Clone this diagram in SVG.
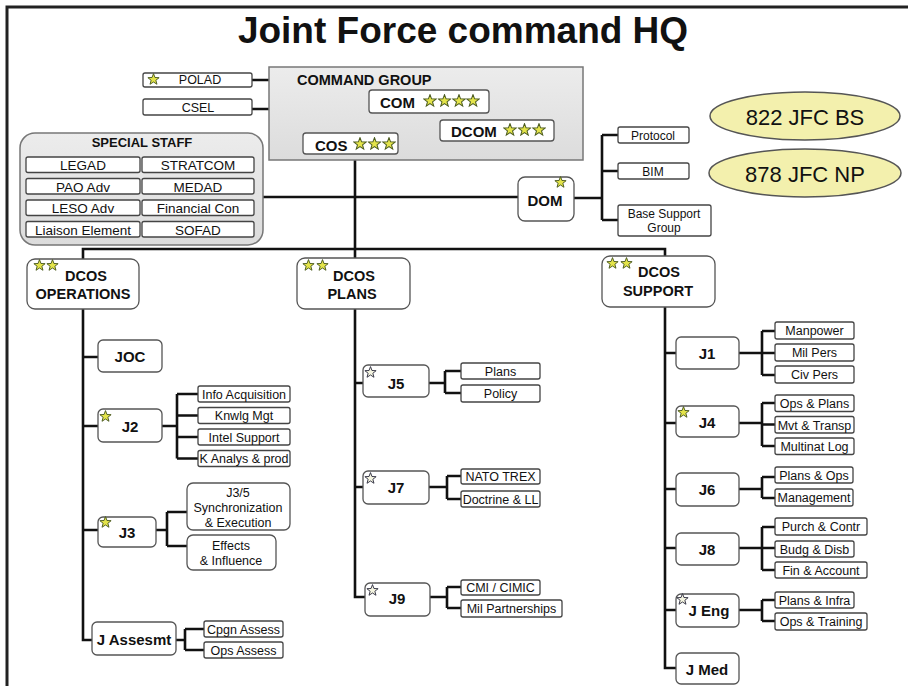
<svg xmlns="http://www.w3.org/2000/svg" xmlns:xlink="http://www.w3.org/1999/xlink" width="908" height="686" viewBox="0 0 908 686">
<style>
text{font-family:"Liberation Sans",Arial,sans-serif;fill:#111}
.t{font-size:37px;font-weight:bold;text-anchor:middle}
.b{font-size:15px;font-weight:bold}
.bc{font-size:15px;font-weight:bold;text-anchor:middle}
.s{font-size:12.5px;text-anchor:middle}
.ss{font-size:13.5px;text-anchor:middle}
.big{font-size:22px;text-anchor:middle}
.box{fill:#fff;stroke:#555;stroke-width:1.3}
.sb{fill:#fff;stroke:#444;stroke-width:1.3}
.grp{fill:url(#gg);stroke:#777;stroke-width:1.5}
.ov{fill:#f3f0ad;stroke:#555;stroke-width:1.5}
.c{fill:none;stroke:#111;stroke-width:2.6;stroke-linejoin:miter}
.frame{fill:none;stroke:#222;stroke-width:3}
</style>
<defs>
<linearGradient id="gg" x1="0" y1="0" x2="0" y2="1"><stop offset="0" stop-color="#ececec"/><stop offset="1" stop-color="#dcdcdc"/></linearGradient>
<symbol id="star" viewBox="-11 -11 22 22"><polygon points="0,-10 2.47,-3.4 9.51,-3.09 3.99,1.3 5.88,8.09 0,4.2 -5.88,8.09 -3.99,1.3 -9.51,-3.09 -2.47,-3.4" fill="#e4e44a" stroke="#4a5a20" stroke-width="1.6"/></symbol>
<symbol id="staro" viewBox="-11 -11 22 22"><polygon points="0,-10 2.47,-3.4 9.51,-3.09 3.99,1.3 5.88,8.09 0,4.2 -5.88,8.09 -3.99,1.3 -9.51,-3.09 -2.47,-3.4" fill="#f4f4e0" stroke="#334" stroke-width="1.6"/></symbol>
</defs>
<rect width="908" height="686" fill="#fff"/>
<polyline class="frame" points="7,686 7,7 908,7"/>
<text class="t" x="463" y="43">Joint Force command HQ</text>

<g id="connectors">
<path class="c" d="M252,80H269M252,109H269"/>
<path class="c" d="M263,197H518M355,154V309M83,259V249H665V256"/>
<path class="c" d="M574,198H602M602,135V220M602,135H618M602,171H618M602,220H618"/>
<path class="c" d="M83,309V640H92M83,357H98M83,426H98M83,530H98"/>
<path class="c" d="M162,426H177M177,394V458.5M177,394H198M177,415.5H198M177,437H198M177,458.5H198"/>
<path class="c" d="M156,530H167M167,512V546M167,512H187M167,546H187"/>
<path class="c" d="M176,640H185M185,629V650M185,629H204M185,650H204"/>
<path class="c" d="M355,309V597H365M355,383H363M355,487H363"/>
<path class="c" d="M429,383H445M445,371V393M445,371H461M445,393H461"/>
<path class="c" d="M429,487H447M447,476V499M447,476H461M447,499H461"/>
<path class="c" d="M430,597H447M447,587V608M447,587H461M447,608H461"/>
<path class="c" d="M665,307V668H676M665,353H676M665,423H676M665,489H676M665,548H676M665,610H676"/>
<path class="c" d="M739,353H762M762,331V375M762,331H775M762,353H775M762,375H775"/>
<path class="c" d="M739,423H762M762,403V446M762,403H775M762,424.5H775M762,446H775"/>
<path class="c" d="M739,489H762M762,477V498M762,477H775M762,498H775"/>
<path class="c" d="M739,548H762M762,527V570M762,527H775M762,548H775M762,570H775"/>
<path class="c" d="M739,610H762M762,600V621M762,600H775M762,621H775"/>
</g>

<g id="command-group">
<rect class="grp" x="269" y="67" width="314" height="93"/>
<text class="b" x="297" y="85" style="font-size:14.5px">COMMAND GROUP</text>
</g>
<g id="com">
<rect class="box" x="369" y="90" width="120" height="23" rx="3"/>
<text class="b" x="380" y="108">COM</text>
<use href="#star" x="423" y="94" width="14" height="14"/><use href="#star" x="437.5" y="94" width="14" height="14"/><use href="#star" x="452" y="94" width="14" height="14"/><use href="#star" x="466" y="94" width="14" height="14"/>
</g>
<g id="dcom">
<rect class="box" x="440" y="120" width="114" height="21" rx="3"/>
<text class="b" x="451" y="137">DCOM</text>
<use href="#star" x="503" y="123" width="14" height="14"/><use href="#star" x="517.5" y="123" width="14" height="14"/><use href="#star" x="532" y="123" width="14" height="14"/>
</g>
<g id="cos">
<rect class="box" x="303" y="133" width="95" height="21" rx="3"/>
<text class="b" x="315" y="151">COS</text>
<use href="#star" x="353" y="137" width="14" height="14"/><use href="#star" x="367.5" y="137" width="14" height="14"/><use href="#star" x="382" y="137" width="14" height="14"/>
</g>
<g id="polad">
<rect class="sb" x="143" y="73" width="109" height="14" rx="2"/>
<use href="#star" x="147" y="73" width="13" height="13"/>
<text class="s" x="200" y="84">POLAD</text>
</g>
<g id="csel">
<rect class="sb" x="143" y="99" width="109" height="16" rx="2"/>
<text class="s" x="198" y="111.5">CSEL</text>
</g>

<g id="special-staff">
<rect class="grp" x="20" y="133" width="243" height="112" rx="15"/>
<text x="142" y="147" style="font-size:13px;font-weight:bold;text-anchor:middle">SPECIAL STAFF</text>
<rect class="sb" x="26" y="157" width="114" height="15.5" rx="2"/><text class="ss" x="83" y="170">LEGAD</text>
<rect class="sb" x="142" y="157" width="112" height="15.5" rx="2"/><text class="ss" x="198" y="170">STRATCOM</text>
<rect class="sb" x="26" y="178.5" width="114" height="15.5" rx="2"/><text class="ss" x="83" y="191.5">PAO Adv</text>
<rect class="sb" x="142" y="178.5" width="112" height="15.5" rx="2"/><text class="ss" x="198" y="191.5">MEDAD</text>
<rect class="sb" x="26" y="200" width="114" height="15.5" rx="2"/><text class="ss" x="83" y="213">LESO Adv</text>
<rect class="sb" x="142" y="200" width="112" height="15.5" rx="2"/><text class="ss" x="198" y="213">Financial Con</text>
<rect class="sb" x="26" y="221.5" width="114" height="15.5" rx="2"/><text class="ss" x="83" y="234.5">Liaison Element</text>
<rect class="sb" x="142" y="221.5" width="112" height="15.5" rx="2"/><text class="ss" x="198" y="234.5">SOFAD</text>
</g>

<g id="dom">
<rect class="box" x="518" y="177" width="56" height="44" rx="7"/>
<use href="#star" x="554" y="176" width="13" height="13"/>
<text class="bc" x="545" y="206">DOM</text>
</g>
<g id="protocol"><rect class="sb" x="618" y="127" width="71" height="16" rx="2"/><text class="s" x="653" y="139.5" style="font-size:12px">Protocol</text></g>
<g id="bim"><rect class="sb" x="618" y="163" width="71" height="16" rx="2"/><text class="s" x="653" y="175.5" style="font-size:12px">BIM</text></g>
<g id="base-support"><rect class="sb" x="618" y="205" width="93" height="31" rx="2"/><text class="s" x="664" y="218" style="font-size:12px">Base Support</text><text class="s" x="664" y="232" style="font-size:12px">Group</text></g>

<g id="jfc-bs"><ellipse class="ov" cx="805" cy="116" rx="95" ry="24"/><text class="big" x="805" y="125">822 JFC BS</text></g>
<g id="jfc-np"><ellipse class="ov" cx="805" cy="173" rx="96" ry="24"/><text class="big" x="805" y="182">878 JFC NP</text></g>

<g id="dcos-ops">
<rect class="box" x="27" y="259" width="112" height="50" rx="8"/>
<use href="#star" x="33" y="259" width="13" height="13"/><use href="#star" x="46" y="259" width="13" height="13"/>
<text class="bc" x="86" y="281" style="font-size:14.5px">DCOS</text>
<text class="bc" x="83" y="299" style="font-size:14.5px">OPERATIONS</text>
</g>
<g id="joc"><rect class="box" x="98" y="340" width="64" height="32" rx="5"/><text class="bc" x="130" y="362">JOC</text></g>
<g id="j2"><rect class="box" x="98" y="409" width="64" height="33" rx="5"/><use href="#star" x="99" y="410" width="13" height="13"/><text class="bc" x="130" y="432">J2</text></g>
<g id="info-acq"><rect class="sb" x="198" y="386" width="92" height="16" rx="2"/><text class="s" x="244" y="398.5">Info Acquisition</text></g>
<g id="knwlg"><rect class="sb" x="198" y="407.5" width="92" height="16" rx="2"/><text class="s" x="244" y="420">Knwlg Mgt</text></g>
<g id="intel"><rect class="sb" x="198" y="429" width="92" height="16" rx="2"/><text class="s" x="244" y="441.5">Intel Support</text></g>
<g id="k-analys"><rect class="sb" x="198" y="450.5" width="92" height="16" rx="2"/><text class="s" x="244" y="463">K Analys &amp; prod</text></g>
<g id="j3"><rect class="box" x="98" y="517" width="58" height="30" rx="5"/><use href="#star" x="99" y="516" width="13" height="13"/><text class="bc" x="127" y="538">J3</text></g>
<g id="j35"><rect class="box" x="187" y="483" width="103" height="47" rx="6"/><text class="s" x="238" y="497">J3/5</text><text class="s" x="238" y="512">Synchronization</text><text class="s" x="238" y="527">&amp; Execution</text></g>
<g id="effects"><rect class="box" x="187" y="535" width="89" height="35" rx="6"/><text class="s" x="231" y="550">Effects</text><text class="s" x="231" y="565">&amp; Influence</text></g>
<g id="j-assesmt"><rect class="box" x="92" y="622" width="84" height="33" rx="5"/><text class="bc" x="134" y="645">J Assesmt</text></g>
<g id="cpgn"><rect class="sb" x="204" y="621" width="79" height="16" rx="2"/><text class="s" x="243.5" y="633.5">Cpgn Assess</text></g>
<g id="ops-assess"><rect class="sb" x="204" y="642" width="79" height="16" rx="2"/><text class="s" x="243.5" y="654.5">Ops Assess</text></g>

<g id="dcos-plans">
<rect class="box" x="297" y="258" width="113" height="51" rx="8"/>
<use href="#star" x="302" y="259" width="13" height="13"/><use href="#star" x="316" y="259" width="13" height="13"/>
<text class="bc" x="354" y="281" style="font-size:14.5px">DCOS</text>
<text class="bc" x="352" y="299" style="font-size:14.5px">PLANS</text>
</g>
<g id="j5"><rect class="box" x="363" y="365" width="66" height="32" rx="5"/><use href="#staro" x="364" y="366" width="13" height="13"/><text class="bc" x="396" y="389">J5</text></g>
<g id="plans"><rect class="sb" x="461" y="363" width="79" height="16" rx="2"/><text class="s" x="500.5" y="375.5">Plans</text></g>
<g id="policy"><rect class="sb" x="461" y="385" width="79" height="17" rx="2"/><text class="s" x="500.5" y="398">Policy</text></g>
<g id="j7"><rect class="box" x="363" y="471" width="66" height="33" rx="5"/><use href="#staro" x="364" y="472" width="13" height="13"/><text class="bc" x="396" y="493">J7</text></g>
<g id="nato-trex"><rect class="sb" x="461" y="469" width="79" height="15" rx="2"/><text class="s" x="500.5" y="481">NATO TREX</text></g>
<g id="doctrine"><rect class="sb" x="461" y="491" width="79" height="16" rx="2"/><text class="s" x="500.5" y="503.5">Doctrine &amp; LL</text></g>
<g id="j9"><rect class="box" x="365" y="583" width="65" height="33" rx="5"/><use href="#staro" x="366" y="584" width="13" height="13"/><text class="bc" x="397" y="604">J9</text></g>
<g id="cimic"><rect class="sb" x="461" y="580" width="79" height="15" rx="2"/><text class="s" x="500.5" y="592">CMI / CIMIC</text></g>
<g id="mil-partner"><rect class="sb" x="461" y="600" width="101" height="17" rx="2"/><text class="s" x="511.5" y="613">Mil Partnerships</text></g>

<g id="dcos-support">
<rect class="box" x="602" y="256" width="113" height="51" rx="8"/>
<use href="#star" x="606" y="257" width="13" height="13"/><use href="#star" x="620" y="257" width="13" height="13"/>
<text class="bc" x="659" y="277" style="font-size:14.5px">DCOS</text>
<text class="bc" x="658" y="296" style="font-size:14.5px">SUPPORT</text>
</g>
<g id="j1"><rect class="box" x="676" y="337" width="63" height="32" rx="5"/><text class="bc" x="707" y="359">J1</text></g>
<g id="manpower"><rect class="sb" x="775" y="322" width="79" height="17" rx="2"/><text class="s" x="814.5" y="335">Manpower</text></g>
<g id="mil-pers"><rect class="sb" x="775" y="344" width="79" height="17" rx="2"/><text class="s" x="814.5" y="357">Mil Pers</text></g>
<g id="civ-pers"><rect class="sb" x="775" y="366" width="79" height="17" rx="2"/><text class="s" x="814.5" y="379">Civ Pers</text></g>
<g id="j4"><rect class="box" x="676" y="406" width="63" height="31" rx="5"/><use href="#star" x="677" y="406" width="13" height="13"/><text class="bc" x="707" y="428">J4</text></g>
<g id="ops-plans"><rect class="sb" x="775" y="395" width="79" height="16.5" rx="2"/><text class="s" x="814.5" y="408">Ops &amp; Plans</text></g>
<g id="mvt"><rect class="sb" x="775" y="416.5" width="79" height="16.5" rx="2"/><text class="s" x="814.5" y="429.5">Mvt &amp; Transp</text></g>
<g id="multinat"><rect class="sb" x="775" y="438" width="79" height="16.5" rx="2"/><text class="s" x="814.5" y="451">Multinat Log</text></g>
<g id="j6"><rect class="box" x="676" y="473" width="63" height="33" rx="5"/><text class="bc" x="707" y="495">J6</text></g>
<g id="plans-ops"><rect class="sb" x="775" y="467" width="78" height="16" rx="2"/><text class="s" x="814" y="479.5">Plans &amp; Ops</text></g>
<g id="management"><rect class="sb" x="775" y="489" width="78" height="17" rx="2"/><text class="s" x="814" y="502">Management</text></g>
<g id="j8"><rect class="box" x="676" y="533" width="63" height="32" rx="5"/><text class="bc" x="707" y="555">J8</text></g>
<g id="purch"><rect class="sb" x="775" y="518" width="92" height="17" rx="2"/><text class="s" x="821" y="531">Purch &amp; Contr</text></g>
<g id="budg"><rect class="sb" x="775" y="541" width="79" height="16" rx="2"/><text class="s" x="814.5" y="553.5">Budg &amp; Disb</text></g>
<g id="fin"><rect class="sb" x="775" y="562" width="92" height="16" rx="2"/><text class="s" x="821" y="574.5">Fin &amp; Account</text></g>
<g id="j-eng"><rect class="box" x="676" y="594" width="63" height="33" rx="5"/><use href="#staro" x="676" y="593" width="13" height="13"/><text class="bc" x="709" y="616">J Eng</text></g>
<g id="plans-infra"><rect class="sb" x="775" y="592" width="79" height="16" rx="2"/><text class="s" x="814.5" y="604.5">Plans &amp; Infra</text></g>
<g id="ops-training"><rect class="sb" x="775" y="613" width="92" height="17" rx="2"/><text class="s" x="821" y="626">Ops &amp; Training</text></g>
<g id="j-med"><rect class="box" x="676" y="653" width="63" height="31" rx="5"/><text class="bc" x="707" y="675">J Med</text></g>
</svg>
